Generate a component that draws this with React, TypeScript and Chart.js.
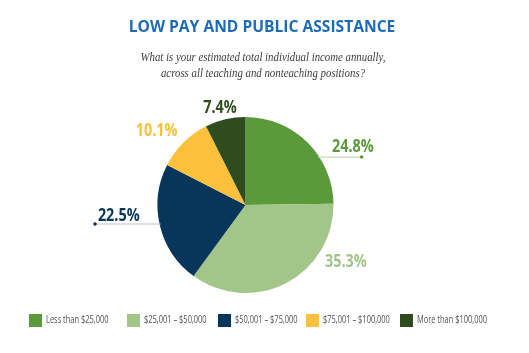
import React, { useEffect, useRef } from "react";
import { Chart, registerables } from "chart.js";

Chart.register(...registerables);

const categories = [
  "Less than $25,000",
  "$25,001 – $50,000",
  "$50,001 – $75,000",
  "$75,001 – $100,000",
  "More than $100,000",
];
const values = [24.8, 35.3, 22.5, 10.1, 7.4];
const colors = ["#5b9a3b", "#a2c589", "#07365a", "#fcc13c", "#2f4c1e"];
const titleText = "LOW PAY AND PUBLIC ASSISTANCE";
const subtitleLines = [
  "What is your estimated total individual income annually,",
  "across all teaching and nonteaching positions?",
];

// label anchor offsets in units of radius (style)
const labelOffsets = [
  [1.22, -0.66],
  [1.14, 0.65],
  [-1.44, 0.125],
  [-1.01, -0.84],
  [-0.29, -1.1],
];
// leader lines: [index, fy, dotFx, lineColor]
const leaders: [number, number, number, string][] = [
  [0, -0.545, 1.32, "#c8dcb8"],
  [2, 0.216, -1.71, "#b9c4cf"],
];
const legendX = [29, 127, 218, 306, 400];

const textPlugin = {
  id: "customText",
  afterDraw(chart: any) {
    const ctx = chart.ctx as CanvasRenderingContext2D;
    const meta = chart.getDatasetMeta(0);
    const arc0 = meta.data[0] as any;
    const cx = arc0.x;
    const cy = arc0.y;
    const r = arc0.outerRadius;
    ctx.save();
    // title
    ctx.fillStyle = "#1b6bb8";
    ctx.textAlign = "center";
    ctx.textBaseline = "middle";
    ctx.save();
    ctx.translate(262, 27);
    ctx.scale(0.975, 1);
    ctx.font = "bold 16px 'Open Sans'";
    ctx.fillText(titleText, 0, 0);
    ctx.restore();
    // subtitle
    ctx.fillStyle = "#3c3c3c";
    ctx.font = "italic 11.5px 'Liberation Serif'";
    subtitleLines.forEach((l, i) => {
      ctx.save();
      ctx.translate(263, 58 + i * 16);
      ctx.scale(0.94, 1);
      ctx.fillText(l, 0, 0);
      ctx.restore();
    });
    // leader lines
    leaders.forEach(([idx, fy, fx, lc]) => {
      const y = cy + fy * r;
      const dx = Math.sqrt(Math.max(r * r - (fy * r) * (fy * r), 0));
      const startX = fx > 0 ? cx + dx - 1 : cx - dx + 1;
      const endX = cx + fx * r;
      ctx.strokeStyle = lc;
      ctx.lineWidth = 1.2;
      ctx.beginPath();
      ctx.moveTo(startX, y);
      ctx.lineTo(endX, y);
      ctx.stroke();
      ctx.fillStyle = colors[idx];
      ctx.beginPath();
      ctx.arc(endX, y, 1.8, 0, Math.PI * 2);
      ctx.fill();
    });
    // percentage labels
    values.forEach((v, i) => {
      const [fx, fy] = labelOffsets[i];
      ctx.save();
      ctx.translate(cx + fx * r, cy + fy * r);
      ctx.scale(0.8, 1);
      ctx.fillStyle = colors[i];
      ctx.font = "bold 18px 'Open Sans'";
      ctx.textAlign = "center";
      ctx.textBaseline = "middle";
      ctx.fillText(v.toFixed(1) + "%", 0, 0);
      ctx.restore();
    });
    // legend
    categories.forEach((c, i) => {
      const x = legendX[i];
      ctx.fillStyle = colors[i];
      ctx.fillRect(x, 314, 13, 13);
      ctx.save();
      ctx.translate(x + 17, 320.5);
      ctx.scale(0.71, 1);
      ctx.fillStyle = "#505050";
      ctx.font = "10.5px 'Open Sans'";
      ctx.textAlign = "left";
      ctx.textBaseline = "middle";
      ctx.fillText(c, 0, 0);
      ctx.restore();
    });
    ctx.restore();
  },
};

export default function App() {
  const ref = useRef<HTMLCanvasElement>(null);
  useEffect(() => {
    if (!ref.current) return;
    const chart = new Chart(ref.current, {
      type: "pie",
      data: {
        labels: categories,
        datasets: [
          {
            data: values,
            backgroundColor: colors,
            borderWidth: 0,
          },
        ],
      },
      options: {
        responsive: false,
        animation: false,
        layout: { padding: { left: 157.5, right: 195.5, top: 117, bottom: 60 } },
        plugins: {
          legend: { display: false },
          tooltip: { enabled: false },
          title: { display: false },
        },
      },
      plugins: [textPlugin],
    });
    return () => chart.destroy();
  }, []);
  return (
    <div style={{ position: "fixed", left: 0, top: 0, width: 529, height: 353, background: "#fff" }}>
      <canvas ref={ref} width={529} height={353} style={{ width: 529, height: 353 }} />
    </div>
  );
}
